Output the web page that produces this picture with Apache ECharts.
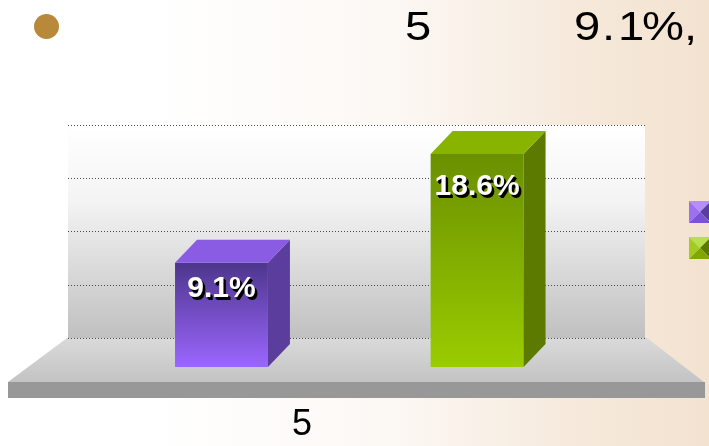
<!DOCTYPE html>
<html>
<head>
<meta charset="utf-8">
<script src="https://cdn.jsdelivr.net/npm/echarts@6/dist/echarts.min.js"></script>
<style>
  html, body { margin: 0; padding: 0; }
  body {
    width: 709px; height: 446px; overflow: hidden;
    background: linear-gradient(90deg, #ffffff 0%, #ffffff 22%, #fcf8f4 55%, #f6e9db 82%, #f3e2d0 100%);
  }
  #chart { width: 709px; height: 446px; }
</style>
</head>
<body>
<div id="chart"></div>
<script>
// data
const categories = ['5'];
const seriesNames = ['系列1', '系列2'];
const purpleValues = [9.1];
const greenValues = [18.6];
const yTicks = { min: 0, max: 20, interval: 5 };

// 3D box look
const BAR_W = 0.161;      // share of the band
const DEPTH_X = 22;
const DEPTH_Y = 23;
const FRONT_DROP = 29;    // front face sits lower than the back wall floor line
const FRONT_SCALE = 1.075;

const styles = [
  {
    offset: -0.234, labelDy: 26,
    front: ['#4d368c', '#9b66ff'], side: '#5a3d9c', top: '#8a5ce4'
  },
  {
    offset: 0.209, labelDy: 33,
    front: ['#6a9000', '#9acc00'], side: '#5c7a00', top: '#88b400'
  }
];

const chart = echarts.init(document.getElementById('chart'));

const labelFont = 'bold 30px "Liberation Sans", Arial, sans-serif';

const renderBox = (s) => (params, api) => {
  const v = api.value(1);
  const base = api.coord([api.value(0), 0]);
  const unit = base[1] - api.coord([api.value(0), 1])[1];
  const band = api.size([1, 0])[0];
  const w = band * BAR_W;
  const x0 = base[0] + band * s.offset - w / 2;
  const yb = base[1] + FRONT_DROP;
  const h = v * unit * FRONT_SCALE;
  const yt = yb - h;
  const label = (dx, fill) => ({
    type: 'text',
    x: x0 + w / 2 + dx,
    y: yt + s.labelDy + dx,
    style: { text: v + '%', fill, font: labelFont, align: 'center', verticalAlign: 'middle' }
  });
  return {
    type: 'group',
    children: [
      {
        type: 'rect',
        shape: { x: x0, y: yt, width: w, height: h },
        style: {
          fill: new echarts.graphic.LinearGradient(0, 0, 0, 1, [
            { offset: 0, color: s.front[0] },
            { offset: 1, color: s.front[1] }
          ])
        }
      },
      {
        type: 'polygon',
        shape: { points: [[x0 + w, yt], [x0 + w + DEPTH_X, yt - DEPTH_Y], [x0 + w + DEPTH_X, yb - DEPTH_Y], [x0 + w, yb]] },
        style: { fill: s.side }
      },
      {
        type: 'polygon',
        shape: { points: [[x0, yt], [x0 + DEPTH_X, yt - DEPTH_Y], [x0 + w + DEPTH_X, yt - DEPTH_Y], [x0 + w, yt]] },
        style: { fill: s.top }
      },
      label(2.5, '#000000'),
      label(1.5, '#000000'),
      label(0, '#ffffff')
    ]
  };
};

const pyramid = (x, y, size, c) => {
  const cx = x + size / 2, cy = y + size / 2;
  const tri = (pts, fill) => ({ type: 'polygon', z: 5, shape: { points: pts }, style: { fill } });
  return [
    tri([[x, y], [x + size, y], [cx, cy]], c[0]),
    tri([[x, y], [cx, cy], [x, y + size]], c[1]),
    tri([[x + size, y], [x + size, y + size], [cx, cy]], c[2]),
    tri([[x, y + size], [cx, cy], [x + size, y + size]], c[3])
  ];
};

const titleFont = '40px "Liberation Sans", Arial, sans-serif';
const titleChars = [['5', 405], ['9', 574], ['.', 602], ['1', 618], ['%', 642], [',', 684]];

const option = {
  animation: false,
  grid: {
    left: 68, right: 64, top: 125, bottom: 108,
    show: true,
    borderWidth: 0,
    backgroundColor: new echarts.graphic.LinearGradient(0, 0, 0, 1, [
      { offset: 0, color: '#ffffff' },
      { offset: 0.35, color: '#f4f4f4' },
      { offset: 1, color: '#c0c0c0' }
    ])
  },
  xAxis: {
    type: 'category',
    data: categories,
    axisLine: { show: false },
    axisTick: { show: false },
    axisLabel: {
      margin: 69,
      color: '#000',
      fontSize: 36,
      fontFamily: '"Liberation Sans", Arial, sans-serif',
      padding: [0, 109, 0, 0]
    }
  },
  yAxis: {
    type: 'value',
    min: yTicks.min,
    max: yTicks.max,
    interval: yTicks.interval,
    z: 1,
    axisLabel: { show: false },
    axisLine: { show: false },
    axisTick: { show: false },
    splitLine: { lineStyle: { type: [1, 2], color: '#4a4a4a', width: 1 } }
  },
  graphic: [
    // floor top
    {
      type: 'polygon', z: 0, silent: true,
      shape: { points: [[67, 338], [647, 338], [704, 382], [8, 382]] },
      style: {
        fill: new echarts.graphic.LinearGradient(0, 0, 0, 1, [
          { offset: 0, color: '#dadada' },
          { offset: 1, color: '#c3c3c3' }
        ])
      }
    },
    // floor front edge
    { type: 'rect', z: 0, silent: true, shape: { x: 8, y: 382, width: 697, height: 16 }, style: { fill: '#989898' } },
    // bullet
    { type: 'circle', z: 5, shape: { cx: 46.5, cy: 26.5, r: 12.5 }, style: { fill: '#b8893a' } },
    ...titleChars.map(([t, x]) => ({
      type: 'text', z: 5, x, y: 29, scaleX: 1.18,
      style: { text: t, font: titleFont, fill: '#000', align: 'left', verticalAlign: 'middle' }
    })),
    ...pyramid(689, 201, 22, ['#b48dff', '#9d6ff2', '#5b3ca0', '#7a52d6']),
    ...pyramid(689, 237, 22, ['#b8e04c', '#a2cc22', '#5c7a00', '#80a800'])
  ],
  series: [
    {
      name: seriesNames[0],
      type: 'custom',
      z: 2,
      renderItem: renderBox(styles[0]),
      data: purpleValues.map((v, i) => [i, v])
    },
    {
      name: seriesNames[1],
      type: 'custom',
      z: 2,
      renderItem: renderBox(styles[1]),
      data: greenValues.map((v, i) => [i, v])
    }
  ]
};

chart.setOption(option);
</script>
</body>
</html>
